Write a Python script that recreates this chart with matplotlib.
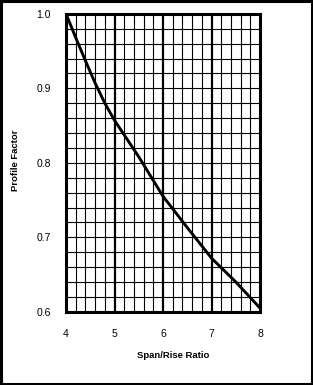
import numpy as np
import matplotlib
matplotlib.use("Agg")
import matplotlib.pyplot as plt
from matplotlib.patches import Rectangle

  # curve
span_rise = [4.0, 4.2, 4.4, 4.6, 4.8, 5.0, 5.5, 6.0, 6.5, 7.0, 7.5, 8.0]
profile = [1.0, 0.968, 0.937, 0.907, 0.880, 0.857, 0.808, 0.755, 0.713, 0.672, 0.640, 0.605]

xticks = [4, 5, 6, 7, 8]
yticks = [0.6, 0.7, 0.8, 0.9, 1.0]
ytick_labels = ["0.6", "0.7", "0.8", "0.9", "1.0"]

plt.rcParams["font.family"] = ["Liberation Sans", "DejaVu Sans"]

fig = plt.figure(figsize=(3.13, 3.85), dpi=100, facecolor="white")
ax = fig.add_axes([0.211, 0.190, 0.620, 0.774])

ax.set_xlim(4, 8); ax.set_ylim(0.6, 1.0)

  # grid: 0.2 in x, 0.02 in y
for xv in np.arange(4.2, 8.0, 0.2):
    lw = 1.6 if abs(xv - round(xv)) < 1e-6 else 0.8
    ax.axvline(xv, color="black", linewidth=lw, zorder=1)
for yv in np.arange(0.62, 1.0, 0.02):
    ax.axhline(yv, color="black", linewidth=0.8, zorder=1)

ax.plot(span_rise, profile, color="black", linewidth=2.1, zorder=3)

for s in ax.spines.values():
    s.set_linewidth(2.2)

ax.set_xticks(xticks)
ax.set_yticks(yticks)
ax.set_yticklabels(ytick_labels)
ax.tick_params(length=0, labelsize=7.5, pad=12)
ax.tick_params(axis="y", pad=11)

ax.set_xlabel("Span/Rise Ratio", fontsize=6.8, fontweight="bold")
ax.xaxis.set_label_coords(0.55, -0.13)
ax.set_ylabel("Profile Factor", fontsize=6.8, fontweight="bold")
ax.yaxis.set_label_coords(-0.235, 0.51)

  # frame around the whole picture
fig.patches.append(Rectangle((0.004, 0.003), 0.992, 0.994, transform=fig.transFigure,
                             fill=False, edgecolor="black", linewidth=2.2))

fig.savefig("out.png", dpi=100)
